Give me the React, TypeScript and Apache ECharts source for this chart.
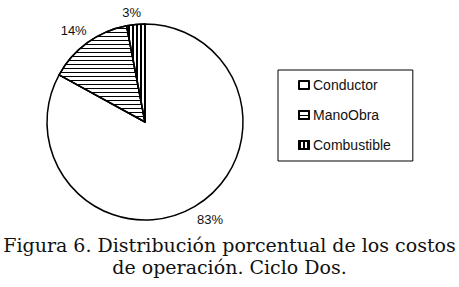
import React, { useEffect, useRef } from "react";
import * as echarts from "echarts";

const categories = ["Conductor", "ManoObra", "Combustible"];
const values = [83, 14, 3];
const captionLines = [
  "Figura 6. Distribución porcentual de los costos",
  "de operación. Ciclo Dos.",
];

export default function App() {
  const ref = useRef<HTMLDivElement>(null);
  useEffect(() => {
    if (!ref.current) return;
    const chart = echarts.init(ref.current, null, { renderer: "svg" });
    const decals: any[] = [
      null,
      {
        symbol: "rect",
        symbolSize: 1,
        color: "#000",
        backgroundColor: "#fff",
        dashArrayX: [1, 0],
        dashArrayY: [1, 3],
        rotation: 0,
      },
      {
        symbol: "rect",
        symbolSize: 1,
        color: "#000",
        backgroundColor: "#fff",
        dashArrayX: [2, 2],
        dashArrayY: [4, 0],
        rotation: 0,
      },
    ];
    const labelNudges = [
      { dx: -7, dy: 6 },
      { dx: 9, dy: -6 },
      { dx: 11, dy: -4 },
    ];
    chart.setOption({
      animation: false,
      backgroundColor: "#fff",
      title: {
        text: captionLines.join("\n"),
        left: "center",
        top: 234,
        padding: 0,
        textStyle: {
          fontFamily: "DejaVu Serif",
          fontSize: 19,
          fontWeight: "normal",
          color: "#111",
          lineHeight: 22,
        },
      },
      legend: {
        orient: "vertical",
        left: 278,
        top: 70,
        data: categories,
        itemWidth: 10,
        itemHeight: 8,
        itemGap: 16,
        padding: [8, 22, 9, 20],
        borderColor: "#000",
        borderWidth: 1,
        borderRadius: 0,
        icon: "rect",
        textStyle: {
          fontFamily: "Liberation Sans",
          fontSize: 14,
          color: "#111",
          padding: [0, 0, 0, -1],
        },
      },
      series: [
        {
          type: "pie",
          center: [145, 122],
          radius: [0, 98],
          startAngle: 90,
          clockwise: true,
          label: {
            show: true,
            position: "outside",
            formatter: "{d}%",
            fontFamily: "Liberation Sans",
            fontSize: 13,
            color: "#111",
          },
          labelLine: { show: false, length: 8, length2: 0 },
          labelLayout: (params: any) => labelNudges[params.dataIndex] || {},
          itemStyle: { borderColor: "#000", borderWidth: 1.5 },
          data: categories.map((c, i) => ({
            name: c,
            value: values[i],
            itemStyle: {
              color: "#fff",
              borderColor: "#000",
              borderWidth: 1.5,
              decal: decals[i] || undefined,
            },
          })),
        },
      ],
    });
    return () => chart.dispose();
  }, []);
  return (
    <div
      ref={ref}
      style={{ position: "fixed", left: 0, top: 0, width: 459, height: 287 }}
    />
  );
}
